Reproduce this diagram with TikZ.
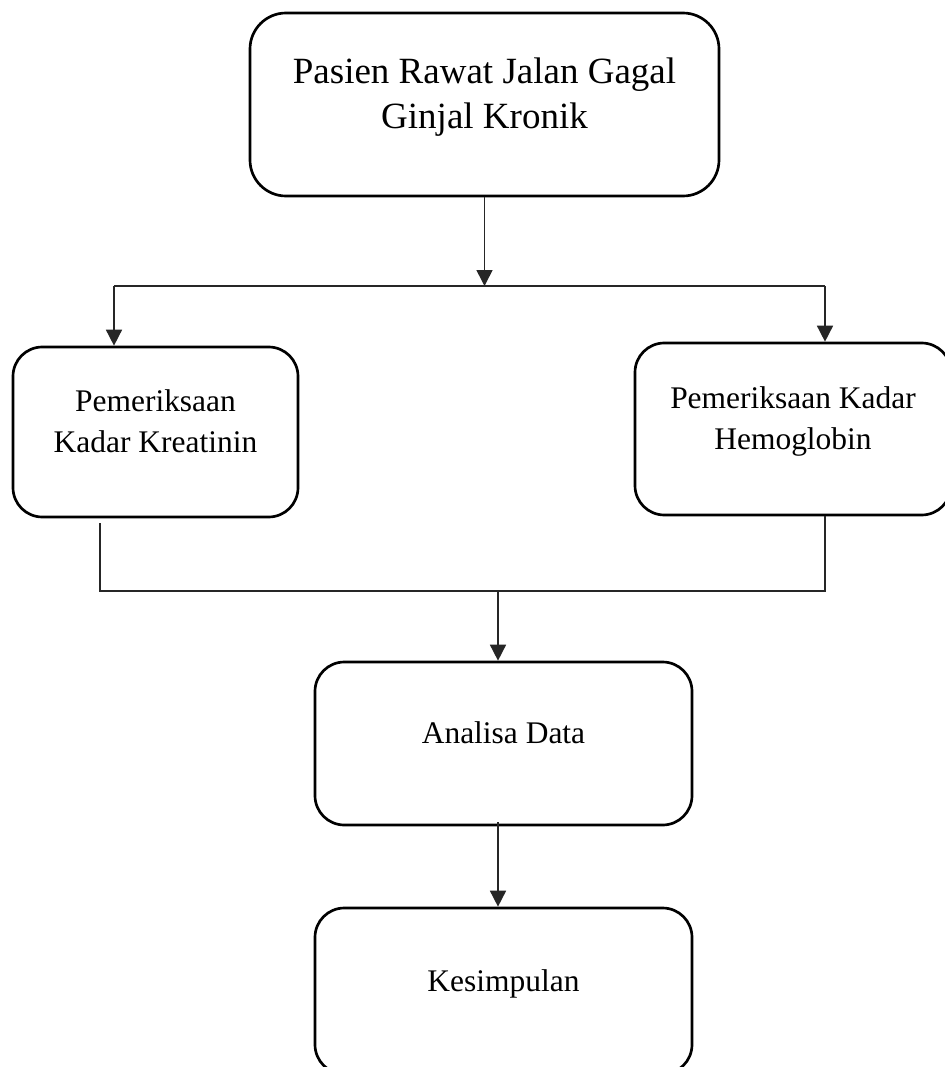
\documentclass[tikz,border=0pt]{standalone}
\usepackage{fontspec}
\setmainfont{Liberation Serif}
\usetikzlibrary{arrows.meta}
\newcommand\px{0.75pt}
\tikzset{flowbox/.style={rectangle, rounded corners=22pt, draw=black, line width=2pt, align=center, text depth=16pt, font=\fontsize{23.6pt}{30.5pt}\selectfont}}
\tikzset{titlebox/.style={flowbox, rounded corners=27pt, text depth=17pt, font=\fontsize{27.75pt}{33.75pt}\selectfont}}
\tikzset{link/.style={draw=black!85, line width=1.2pt}}
\tikzset{arrow/.style={link, -{Triangle[length=12pt,width=12pt]}}}

\begin{document}
\begin{tikzpicture}[x=\px, y=-\px]
\clip (0,0) rectangle (945,1067);
\fill[white] (0,0) rectangle (945,1067);
\node[titlebox, minimum width=469*\px, minimum height=183*\px] (pasien) at (484.5,104.5) {Pasien Rawat Jalan Gagal\\Ginjal Kronik};
\node[flowbox, minimum width=285*\px, minimum height=170*\px] (kreatinin) at (155.5,432) {Pemeriksaan\\Kadar Kreatinin};
\node[flowbox, minimum width=316*\px, minimum height=172*\px] (hemoglobin) at (793,429) {Pemeriksaan Kadar\\Hemoglobin};
\node[flowbox, minimum width=377*\px, minimum height=163*\px] (analisa) at (503.5,743.5) {Analisa Data};
\node[flowbox, minimum width=377*\px, minimum height=166*\px] (kesimpulan) at (503.5,991) {Kesimpulan};
% branch points
\coordinate (splitL) at (114,286);
\coordinate (splitR) at (825,286);
\coordinate (joinL) at (100,591);
\coordinate (joinM) at (498,591);
\coordinate (joinR) at (825,591);
\draw[arrow] (pasien.south) -- (pasien.south |- splitL);
\draw[link] (splitL) -- (splitR);
\draw[arrow] (splitL) -- (kreatinin.north -| splitL);
\draw[arrow] (splitR) -- (hemoglobin.north -| splitR);
\draw[link] ([yshift=-5*\px]kreatinin.south -| joinL) -- (joinL) -- (joinR) -- (hemoglobin.south -| joinR);
\draw[arrow] (joinM) -- (analisa.north -| joinM);
\draw[arrow] ([yshift=4*\px]analisa.south -| joinM) -- (kesimpulan.north -| joinM);
\end{tikzpicture}
\end{document}
